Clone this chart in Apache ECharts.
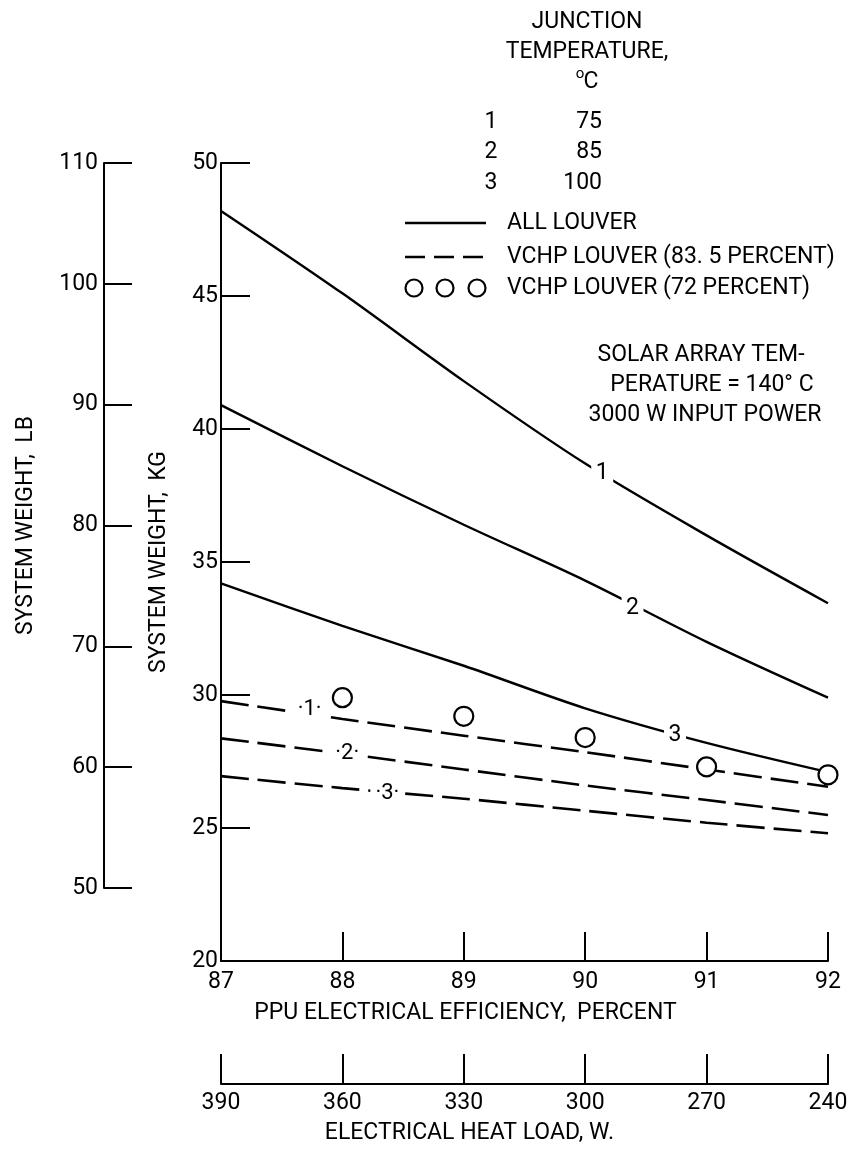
<!DOCTYPE html>
<html>
<head>
<meta charset="utf-8">
<script src="https://cdn.jsdelivr.net/npm/echarts@6/dist/echarts.min.js"></script>
<style>
html,body{margin:0;padding:0;background:#fff;}
#chart{width:854px;height:1149px;}
</style>
</head>
<body>
<div id="chart"></div>
<script>
// ---- data ----
const efficiency = [87, 88, 89, 90, 91, 92];
const heatLoadTicks = [390, 360, 330, 300, 270, 240];
const allLouver1 = [48.2, 45.1, 41.8, 38.7, 36.0, 33.45];
const allLouver2 = [40.9, 38.6, 36.4, 34.3, 32.0, 29.9];
const allLouver3 = [34.2, 32.6, 31.1, 29.5, 28.2, 27.1];
const vchp835_1 = [29.77, 29.1, 28.47, 27.85, 27.2, 26.55];
const vchp835_2 = [28.37, 27.8, 27.2, 26.6, 26.05, 25.49];
const vchp835_3 = [26.95, 26.5, 26.1, 25.65, 25.2, 24.8];
const vchp72Eff = [88, 89, 90, 91, 92];
const vchp72 = [29.9, 29.2, 28.4, 27.3, 27.0];
const solidLabelPos = [[90.14, 38.35, '1'], [90.39, 33.27, '2'], [90.74, 28.5, '3']];
const dashLabelPos = [[87.73, 29.44, '·1·'], [88.04, 27.8, '·2·'], [88.37, 26.3, '·3·']];
const junctionIds = ['1', '2', '3'];
const junctionTemps = ['75', '85', '100'];

const FONT = "Roboto, 'Liberation Sans', sans-serif";
const FS = 23;
const black = '#000';

function pairs(xs, ys) { return xs.map((x, i) => [x, ys[i]]); }

const chart = echarts.init(document.getElementById('chart'), null, {renderer: 'canvas'});

const axisLineStyle = {lineStyle: {color: black, width: 2}};
const labelStyle = {color: black, fontFamily: FONT, fontSize: FS};

function solid(name, ys) {
  return {name, type: 'line', xAxisIndex: 0, yAxisIndex: 0, data: pairs(efficiency, ys),
    smooth: 0.3, symbol: 'none', lineStyle: {color: black, width: 2.4}, z: 2, silent: true};
}
function dashed(name, ys) {
  return {name, type: 'line', xAxisIndex: 0, yAxisIndex: 0, data: pairs(efficiency, ys),
    smooth: 0.3, symbol: 'none', lineStyle: {color: black, width: 2.6, type: [28, 9]}, z: 2, silent: true};
}
function labelSeries(name, arr, fs, size) {
  return {name, type: 'scatter', xAxisIndex: 0, yAxisIndex: 0, symbol: 'rect', symbolSize: size, z: 5,
    itemStyle: {color: '#fff', opacity: 1},
    data: arr.map(d => ({value: [d[0], d[1]], label: {formatter: d[2]}})),
    label: {show: true, position: 'inside', color: black, fontFamily: FONT, fontSize: fs,
      textBorderWidth: 0, opacity: 1}, silent: true};
}

const texts = [];
function txt(text, x, y, align, size) {
  texts.push({type: 'text', style: {text, x, y, align: align || 'left', verticalAlign: 'middle',
    fontFamily: FONT, fontSize: size || FS, fill: black}});
}
txt('JUNCTION', 587, 22, 'center');
txt('TEMPERATURE,', 587, 52, 'center');
txt('o', 580, 74, 'center', 15);
txt('C', 591, 82, 'center');
junctionIds.forEach((id, i) => {
  txt(id, 491, 122 + i * 30.5, 'center');
  txt(junctionTemps[i], 602, 122 + i * 30.5, 'right');
});
txt('ALL LOUVER', 507, 223);
txt('VCHP LOUVER (83. 5 PERCENT)', 507, 257);
txt('VCHP LOUVER (72 PERCENT)', 507, 288);
txt('SOLAR ARRAY TEM-', 701, 355, 'center');
txt('PERATURE = 140° C', 712, 385, 'center');
txt('3000 W INPUT POWER', 705, 415, 'center');

const legendMarks = [
  {type: 'line', shape: {x1: 405, y1: 223, x2: 486, y2: 223}, style: {stroke: black, lineWidth: 2.4}},
  {type: 'line', shape: {x1: 405, y1: 257, x2: 486, y2: 257}, style: {stroke: black, lineWidth: 2.4, lineDash: [20, 9]}},
  {type: 'circle', shape: {cx: 414, cy: 288, r: 8.5}, style: {fill: '#fff', stroke: black, lineWidth: 2.2}},
  {type: 'circle', shape: {cx: 445, cy: 288, r: 8.5}, style: {fill: '#fff', stroke: black, lineWidth: 2.2}},
  {type: 'circle', shape: {cx: 477, cy: 288, r: 8.5}, style: {fill: '#fff', stroke: black, lineWidth: 2.2}}
];

const option = {
  backgroundColor: '#fff',
  animation: false,
  grid: [
    {left: 221, right: 26, top: 163, bottom: 188},
    {left: 104, width: 40, top: 163, height: 725},
    {left: 221, right: 26, top: 1054, height: 30}
  ],
  xAxis: [
    {gridIndex: 0, type: 'value', min: 87, max: 92, interval: 1,
      axisLine: axisLineStyle, axisTick: {inside: true, length: 29, lineStyle: {color: black, width: 2}},
      splitLine: {show: false}, axisLabel: Object.assign({margin: 10}, labelStyle),
      name: 'PPU ELECTRICAL EFFICIENCY,  PERCENT', nameLocation: 'middle', nameGap: 41,
      nameTextStyle: {color: black, fontFamily: FONT, fontSize: FS, padding: [0, 118, 0, 0]}},
    {gridIndex: 1, type: 'value', show: false, min: 0, max: 1},
    {gridIndex: 2, type: 'value', min: 240, max: 390, interval: 30, inverse: true,
      axisLine: axisLineStyle, axisTick: {inside: true, length: 30, lineStyle: {color: black, width: 2}},
      splitLine: {show: false}, axisLabel: Object.assign({margin: 8,
        formatter: v => heatLoadTicks.includes(v) ? String(v) : ''}, labelStyle),
      name: 'ELECTRICAL HEAT LOAD, W.', nameLocation: 'middle', nameGap: 38,
      nameTextStyle: {color: black, fontFamily: FONT, fontSize: FS, padding: [0, 110, 0, 0]}}
  ],
  yAxis: [
    {gridIndex: 0, type: 'value', min: 20, max: 50, interval: 5,
      axisLine: {show: true, lineStyle: {color: black, width: 2}},
      axisTick: {show: true, inside: true, length: 29, lineStyle: {color: black, width: 2}},
      splitLine: {show: false}, axisLabel: Object.assign({margin: 3}, labelStyle),
      name: 'SYSTEM WEIGHT,  KG', nameLocation: 'middle', nameGap: 50,
      nameTextStyle: {color: black, fontFamily: FONT, fontSize: FS}},
    {gridIndex: 1, type: 'value', min: 50, max: 110, interval: 10,
      axisLine: {show: true, lineStyle: {color: black, width: 2}},
      axisTick: {show: true, inside: true, length: 28, lineStyle: {color: black, width: 2}},
      splitLine: {show: false}, axisLabel: Object.assign({margin: 6}, labelStyle),
      name: 'SYSTEM WEIGHT,  LB', nameLocation: 'middle', nameGap: 66,
      nameTextStyle: {color: black, fontFamily: FONT, fontSize: FS}},
    {gridIndex: 2, type: 'value', show: false, min: 0, max: 1}
  ],
  series: [
    solid('All louver, 1', allLouver1),
    solid('All louver, 2', allLouver2),
    solid('All louver, 3', allLouver3),
    dashed('VCHP louver 83.5%, 1', vchp835_1),
    dashed('VCHP louver 83.5%, 2', vchp835_2),
    dashed('VCHP louver 83.5%, 3', vchp835_3),
    {name: 'VCHP louver 72%', type: 'scatter', xAxisIndex: 0, yAxisIndex: 0,
      data: pairs(vchp72Eff, vchp72), symbol: 'circle', symbolSize: 19, z: 4,
      itemStyle: {color: '#fff', borderColor: black, borderWidth: 2.2, opacity: 1}, silent: true},
    labelSeries('solid labels', solidLabelPos, FS, [22, 26]),
    labelSeries('dashed labels', dashLabelPos, 22, [34, 24])
  ],
  graphic: texts.concat(legendMarks)
};
chart.setOption(option);
</script>
</body>
</html>
